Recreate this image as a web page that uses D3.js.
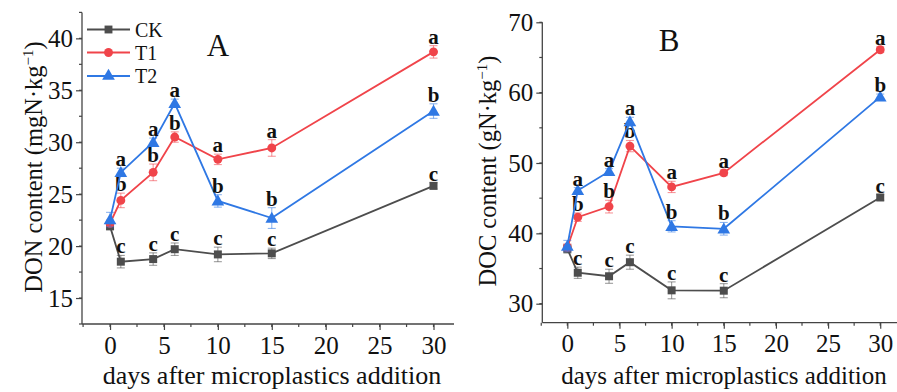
<!DOCTYPE html>
<html><head><meta charset="utf-8">
<script src="https://cdn.jsdelivr.net/npm/d3@7"></script>
<style>body{margin:0;background:#fff}svg{display:block}text{font-family:"Liberation Serif","Times New Roman",serif}</style>
</head><body><svg id="c" width="897" height="392"></svg>
<script>
const days = [0, 1, 4, 6, 10, 15, 30];
const seriesNames = ["CK", "T1", "T2"];
const colors = {CK: "#4d4d4d", T1: "#f0444a", T2: "#2f78e4"};

// Panel A: DON
const donCK = [21.9, 18.5, 18.75, 19.7, 19.2, 19.3, 25.8];
const donCKerr = [0.3, 0.6, 0.6, 0.6, 0.7, 0.5, 0.3];
const donT1 = [22.2, 24.4, 27.1, 30.5, 28.35, 29.45, 38.7];
const donT1err = [0.3, 0.7, 0.8, 0.5, 0.5, 0.8, 0.6];
const donT2 = [22.55, 27.1, 30.0, 33.75, 24.35, 22.7, 33.0];
const donT2err = [0.7, 0.4, 0.4, 0.4, 0.6, 1.0, 0.7];
const donCKsig = ["", "c", "c", "c", "c", "c", "c"];
const donT1sig = ["", "b", "b", "b", "a", "a", "a"];
const donT2sig = ["", "a", "a", "a", "b", "b", "b"];
const donTicks = [15, 20, 25, 30, 35, 40];

// Panel B: DOC
const docCK = [37.8, 34.4, 33.9, 35.9, 31.9, 31.85, 45.1];
const docCKerr = [0.6, 0.8, 1.0, 1.0, 1.2, 1.0, 0.4];
const docT1 = [38.0, 42.3, 43.8, 52.4, 46.6, 48.6, 66.1];
const docT1err = [0.5, 0.6, 0.9, 0.8, 0.8, 0.4, 0.4];
const docT2 = [38.2, 46.1, 48.8, 55.9, 41.0, 40.65, 59.4];
const docT2err = [0.8, 0.4, 0.4, 0.6, 0.8, 0.9, 0.4];
const docCKsig = ["", "c", "c", "c", "c", "c", "c"];
const docT1sig = ["", "b", "b", "b", "a", "a", "a"];
const docT2sig = ["", "a", "a", "a", "b", "b", "b"];
const docTicks = [30, 40, 50, 60, 70];

const xTicks = [0, 5, 10, 15, 20, 25, 30];
const xLabel = "days after microplastics addition";

const svg = d3.select("#c");
const axisColor = "#444";

function panel(cfg) {
  const g = svg.append("g");
  const x = d3.scaleLinear().domain(cfg.xd).range(cfg.xr);
  const y = d3.scaleLinear().domain(cfg.yd).range(cfg.yr);
  g.append("line").attr("x1", cfg.xr[0]).attr("x2", cfg.xr[0]).attr("y1", cfg.yr[0]).attr("y2", cfg.yr[1]).attr("stroke", axisColor).attr("stroke-width", 1.3);
  g.append("line").attr("x1", cfg.xr[0]).attr("x2", cfg.xr[1]).attr("y1", cfg.yr[0]).attr("y2", cfg.yr[0]).attr("stroke", axisColor).attr("stroke-width", 1.3);
  const yMinor = d3.range(Math.ceil(cfg.yd[0]/cfg.yMinorStep)*cfg.yMinorStep, cfg.yd[1]+1e-6, cfg.yMinorStep);
  g.selectAll(".ym").data(yMinor).enter().append("line")
    .attr("x1", cfg.xr[0]).attr("x2", cfg.xr[0]-3).attr("y1", d=>y(d)).attr("y2", d=>y(d)).attr("stroke", axisColor).attr("stroke-width",1.2);
  const ya = d3.axisLeft(y).tickValues(cfg.yTicks).tickSize(6).tickPadding(3).tickFormat(d3.format("d"));
  const yg = g.append("g").attr("transform", `translate(${cfg.xr[0]},0)`).call(ya);
  yg.select(".domain").remove();
  yg.selectAll("line").attr("stroke", axisColor).attr("stroke-width",1.2);
  yg.selectAll("text").attr("font-size", 25).attr("fill", "#111").attr("font-family", "Liberation Serif");
  const xMinor = d3.range(-2.5, cfg.xd[1], 2.5);
  g.selectAll(".xm").data(xMinor).enter().append("line")
    .attr("x1", d=>x(d)).attr("x2", d=>x(d)).attr("y1", cfg.yr[0]).attr("y2", cfg.yr[0]+3).attr("stroke", axisColor).attr("stroke-width",1.2);
  const xa = d3.axisBottom(x).tickValues(xTicks).tickSize(6).tickPadding(6).tickFormat(d3.format("d"));
  const xg = g.append("g").attr("transform", `translate(0,${cfg.yr[0]})`).call(xa);
  xg.select(".domain").remove();
  xg.selectAll("line").attr("stroke", axisColor).attr("stroke-width",1.2);
  xg.selectAll("text").attr("font-size", 25).attr("fill", "#111").attr("font-family", "Liberation Serif");
  g.append("text").attr("x", cfg.xlabX).attr("y", 384).attr("text-anchor", "middle").attr("font-size", cfg.xlabSize).attr("fill", "#111").text(xLabel);
  const yl = g.append("text").attr("transform", `translate(${cfg.ylabX},${cfg.ylabY}) rotate(-90)`).attr("text-anchor", "middle").attr("font-size", 24.5).attr("fill","#111");
  yl.append("tspan").text(cfg.ylab);
  yl.append("tspan").attr("dy", -9).attr("font-size", 15).text("−1");
  yl.append("tspan").attr("dy", 9).text(")");
  g.append("text").attr("x", cfg.letterX).attr("y", cfg.letterY).attr("text-anchor","middle").attr("font-size", 31).attr("fill","#111").text(cfg.letter);

  cfg.series.forEach(s => {
    const col = colors[s.name];
    const pts = days.map((d,i)=>({d, v:s.vals[i], e:s.err[i], sig:s.sig[i]}));
    const eb = g.append("g").attr("stroke", col).attr("stroke-opacity", 0.55).attr("stroke-width", 1.1);
    pts.forEach(p => {
      const cx = x(p.d);
      eb.append("line").attr("x1",cx).attr("x2",cx).attr("y1",y(p.v-p.e)).attr("y2",y(p.v+p.e));
      eb.append("line").attr("x1",cx-4).attr("x2",cx+4).attr("y1",y(p.v-p.e)).attr("y2",y(p.v-p.e));
      eb.append("line").attr("x1",cx-4).attr("x2",cx+4).attr("y1",y(p.v+p.e)).attr("y2",y(p.v+p.e));
    });
    g.append("path").datum(pts).attr("fill","none").attr("stroke", col).attr("stroke-width", 1.8)
      .attr("d", d3.line().x(p=>x(p.d)).y(p=>y(p.v)));
    const sym = s.name==="CK" ? d3.symbolSquare : s.name==="T1" ? d3.symbolCircle : d3.symbolTriangle;
    const size = s.name==="CK" ? 64 : s.name==="T1" ? 62 : 70;
    g.selectAll(null).data(pts).enter().append("path")
      .attr("transform", p=>`translate(${x(p.d)},${y(p.v) + (s.name==="T2"?1:0)})`)
      .attr("d", d3.symbol().type(sym).size(size)).attr("fill", col);
    g.selectAll(null).data(pts.filter(p=>p.sig)).enter().append("text")
      .attr("x", p=>x(p.d)).attr("y", p=>y(p.v+p.e)-2).attr("text-anchor","middle")
      .attr("font-size", 21).attr("font-weight","bold").attr("fill","#111").text(p=>p.sig);
  });
}

panel({
  xd: [-2.6, 31.9], xr: [82, 454], yd: [12.5, 42.5], yr: [324, 12.4], yMinorStep: 2.5,
  yTicks: donTicks, xlabX: 272, xlabSize: 26, ylabX: 42, ylabY: 167, ylab: "DON content (mgN·kg",
  letter: "A", letterX: 218, letterY: 56,
  series: [
    {name:"CK", vals:donCK, err:donCKerr, sig:donCKsig},
    {name:"T1", vals:donT1, err:donT1err, sig:donT1sig},
    {name:"T2", vals:donT2, err:donT2err, sig:donT2sig}
  ]
});
panel({
  xd: [-2.4, 31.8], xr: [542.3, 899], yd: [27.3, 70], yr: [322.7, 22.3], yMinorStep: 5,
  yTicks: docTicks, xlabX: 724, xlabSize: 25, ylabX: 496, ylabY: 171, ylab: "DOC content  (gN·kg",
  letter: "B", letterX: 669, letterY: 51,
  series: [
    {name:"CK", vals:docCK, err:docCKerr, sig:docCKsig},
    {name:"T1", vals:docT1, err:docT1err, sig:docT1sig},
    {name:"T2", vals:docT2, err:docT2err, sig:docT2sig}
  ]
});

const leg = svg.append("g");
seriesNames.forEach((n,i)=>{
  const yy = [29.5, 52.5, 76][i];
  const col = colors[n];
  leg.append("line").attr("x1",87).attr("x2",130).attr("y1",yy).attr("y2",yy).attr("stroke",col).attr("stroke-width",1.8);
  const sym = n==="CK" ? d3.symbolSquare : n==="T1" ? d3.symbolCircle : d3.symbolTriangle;
  leg.append("path").attr("transform",`translate(108.5,${yy})`).attr("d", d3.symbol().type(sym).size(n==="T2"?70:62)).attr("fill",col);
  leg.append("text").attr("x",135).attr("y",yy+7).attr("font-size",20).attr("fill","#111").text(n);
});
</script></body></html>
